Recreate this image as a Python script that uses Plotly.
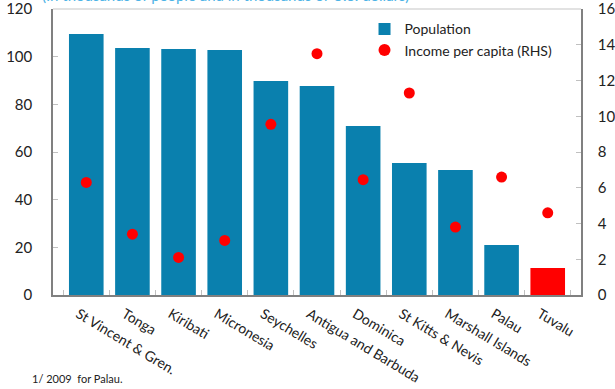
import plotly.graph_objects as go

countries = ["St Vincent & Gren.", "Tonga", "Kiribati", "Micronesia", "Seychelles",
             "Antigua and Barbuda", "Dominica", "St Kitts & Nevis", "Marshall Islands",
             "Palau", "Tuvalu"]
population = [109.5, 103.6, 103.2, 102.8, 89.8, 87.7, 70.9, 55.4, 52.5, 21.0, 11.3]
income_pc = [6.3, 3.4, 2.1, 3.05, 9.55, 13.5, 6.45, 11.3, 3.8, 6.6, 4.6]

bar_colors = ["#0a80ae"] * (len(countries) - 1) + ["#ff0000"]
font_family = "Lato, 'Open Sans', sans-serif"

fig = go.Figure()
fig.add_trace(go.Bar(
    x=countries, y=population, name="Population",
    marker=dict(color=bar_colors, line=dict(width=0)),
    showlegend=False,
))
# legend stand-in for the bar series (square swatch)
fig.add_trace(go.Scatter(
    x=[None], y=[None], mode="markers", name="Population",
    marker=dict(symbol="square", size=10, color="#0a80ae"),
))
fig.add_trace(go.Scatter(
    x=countries, y=income_pc, name="Income per capita (RHS)", yaxis="y2",
    mode="markers", marker=dict(color="#ff0000", size=11),
))

fig.update_layout(
    width=615, height=389,
    margin=dict(l=53, r=34, t=9, b=94),
    plot_bgcolor="white", paper_bgcolor="white",
    font=dict(family=font_family, size=14, color="#222222"),
    bargap=0.25,
    xaxis=dict(
        tickangle=31, showline=True, linecolor="#808080", linewidth=1.5,
        ticks="inside", tickson="boundaries", ticklen=5, tickcolor="#c0c0c0",
        showgrid=False, tickfont=dict(size=14),
        ticklabelshift=-8, ticklabelstandoff=4, automargin=False,
    ),
    yaxis=dict(
        range=[0, 120], dtick=20, showgrid=False, zeroline=False,
        showline=True, linecolor="#808080", linewidth=1.5,
        ticks="inside", ticklen=5, tickcolor="#c0c0c0",
        ticklabelstandoff=16, tickfont=dict(size=15),
        ticklabeloverflow="allow", automargin=False,
    ),
    yaxis2=dict(
        range=[0, 16], dtick=2, overlaying="y", side="right",
        showgrid=False, zeroline=False, showline=True, linecolor="#808080",
        linewidth=1.5, ticks="inside", ticklen=5, tickcolor="#c0c0c0",
        ticklabelstandoff=12, tickfont=dict(size=15),
        ticklabeloverflow="allow", automargin=False,
    ),
    legend=dict(
        x=0.59, y=0.985, xanchor="left", yanchor="top",
        bgcolor="rgba(0,0,0,0)", font=dict(size=14),
        itemsizing="constant", tracegroupgap=2,
    ),
    shapes=[dict(type="line", xref="paper", yref="paper", x0=0, x1=1, y0=1, y1=1,
                 line=dict(color="#d8d8d8", width=1.5))],
    annotations=[
        dict(text="1/ 2009  for Palau.", xref="paper", yref="paper",
             x=-0.043, y=-0.262, xanchor="left", yanchor="top", showarrow=False,
             font=dict(size=11, color="#222222")),
        dict(text="(In thousands of people and in thousands of U.S. dollars)",
             xref="paper", yref="paper", x=-0.025, y=1.012, xanchor="left",
             yanchor="bottom", showarrow=False,
             font=dict(size=15, color="#4db3e6")),
    ],
)

fig.write_html("out.html")
